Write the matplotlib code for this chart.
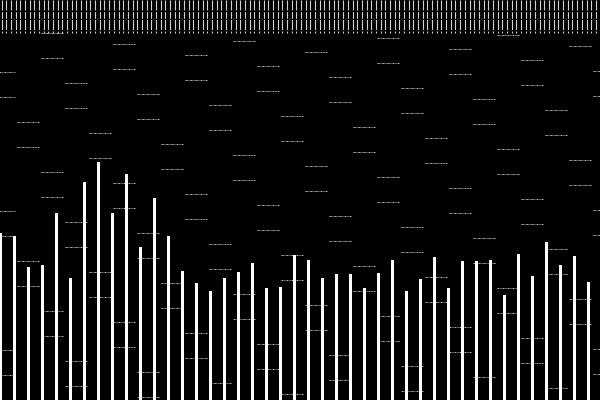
import matplotlib
matplotlib.use("Agg")
import matplotlib.pyplot as plt
import numpy as np

# bar values (in axis units 0..400)
values = [167, 164, 133, 135, 187, 122, 218, 238, 187, 226, 153, 202, 164, 129,
          117, 109, 122, 128, 137, 112, 113, 145, 140, 122, 126, 126, 112, 127,
          140, 109, 121, 143, 112, 139, 139, 140, 105, 146, 124, 158, 135, 144, 118]
categories = list(range(len(values)))

W, H = 600, 400
fig = plt.figure(figsize=(6, 4), dpi=100, facecolor="black")

# decoration layer in pixel coordinates
deco = fig.add_axes([0, 0, 1, 1])
deco.set_xlim(0, W)
deco.set_ylim(H, 0)
deco.set_facecolor("black")
deco.axis("off")

# top band of thin vertical stripes
xs = np.arange(1.5, W, 4.68)
deco.vlines(xs, 0, 33, colors="#e0e0e0", linewidth=0.8,
            linestyles=(0, (9, 1.5, 6, 1.0)), alpha=0.95)

# lattice of faint dotted label marks
for k in range(26):
    cx = 4 + 24 * k
    y0 = (72 + 50 * k) % 139
    for m in range(-1, 4):
        for dy in (0, 25):
            y = y0 + 139 * m + dy
            if 31 <= y <= 402:
                deco.hlines(y, cx - 11, cx + 11, colors="#cfcfcf",
                            linewidth=0.72, linestyles=(0, (2, 1, 1, 1)),
                            alpha=0.85)

# bar layer
ax = fig.add_axes([0, 0, 1, 1])
ax.patch.set_alpha(0)
ax.bar(categories, values, width=0.24, color="white", edgecolor="none")
ax.set_xlim(-0.05, -0.05 + W / 14)
ax.set_ylim(0, H)
ax.axis("off")

fig.savefig("out.png", dpi=100, facecolor="black")
